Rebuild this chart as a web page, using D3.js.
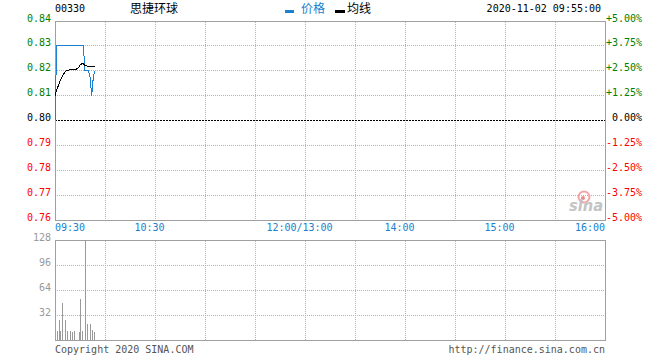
<!DOCTYPE html>
<html>
<head>
<meta charset="utf-8">
<script src="https://cdn.jsdelivr.net/npm/d3@7"></script>
<style>
  html, body { margin: 0; padding: 0; background: #fff; }
  svg { display: block; }
  text { font-family: "DejaVu Sans Mono", "Liberation Mono", monospace; font-size: 10px; }
  .cjk { font-family: "Noto Sans CJK SC", sans-serif; font-size: 12px; }
</style>
</head>
<body>
<svg id="chart" width="660" height="360"></svg>
<script>
// ---------------- data ----------------
const stockCode = "00330";
const stockName = "思捷环球";
const timestamp = "2020-11-02 09:55:00";
const prevClose = 0.80;

const times = ["09:30","09:31","09:32","09:33","09:34","09:35","09:36","09:37","09:38","09:39",
               "09:40","09:41","09:42","09:43","09:44","09:45","09:46","09:47","09:48","09:49",
               "09:50","09:51","09:52","09:53","09:54"];
const prices = [0.800, 0.830, 0.830, 0.830, 0.830, 0.830, 0.830, 0.830, 0.830, 0.830,
                0.830, 0.830, 0.830, 0.830, 0.830, 0.830, 0.830, 0.830, 0.820, 0.820,
                0.820, 0.8175, 0.810, 0.8175, 0.820];
const avgPrices = [0.8100, 0.8125, 0.8140, 0.8160, 0.8172, 0.8185, 0.8195, 0.8200, 0.8200, 0.8205,
                   0.8207, 0.8207, 0.8207, 0.8207, 0.8212, 0.8222, 0.8228, 0.8228, 0.8220, 0.8219,
                   0.8219, 0.8219, 0.8219, 0.8219, 0.8219];
const volumes = [0, 11, 25, 11, 48, 0, 25, 11, 0, 11,
                 10, 11, 0, 0, 10, 52, 11, 0, 140, 20,
                 0, 20, 13, 10, 0];

const priceTicks = [0.84, 0.83, 0.82, 0.81, 0.80, 0.79, 0.78, 0.77, 0.76];
const pctLabels = ["+5.00%", "+3.75%", "+2.50%", "+1.25%", "0.00%", "-1.25%", "-2.50%", "-3.75%", "-5.00%"];
const timeTickLabels = ["09:30", "10:30", "12:00/13:00", "14:00", "15:00", "16:00"];
const timeTickMinutes = [0, 60, 150, 210, 270, 330];
const gridMinutes = [30, 60, 90, 120, 150, 180, 210, 240, 270, 300];
const volumeTicks = [128, 96, 64, 32];
const legendLabels = ["价格", "均线"];

// ---------------- helpers ----------------
function minuteIndex(t) {
  const [h, m] = t.split(":").map(Number);
  let v = h * 60 + m - (9 * 60 + 30);
  if (v > 150) v -= 60; // lunch break
  return v;
}
const blue = "#1a80cf";
const green = "#008000";
const red = "#ff0000";
const gray = "#a0a0a0";
const dotGray = "#b4b4b4";

const svg = d3.select("#chart");
const L = 55, R = 605;
const mainTop = 21, mainBot = 220;
const volTop = 240, volBot = 340;

const x = d3.scaleLinear().domain([0, 330]).range([L, R]);
const y = d3.scaleLinear().domain([0.76, 0.84]).range([mainBot, mainTop]);
const yv = d3.scaleLinear().domain([0, 128]).range([volBot, volTop]).clamp(true);
const crisp = v => Math.floor(v) + 0.5;

// ---------------- grid: main ----------------
const gMain = svg.append("g");
gMain.selectAll("line.hg").data(priceTicks.filter(p => p !== 0.84 && p !== 0.76 && p !== prevClose))
  .join("line")
  .attr("x1", L).attr("x2", R)
  .attr("y1", d => crisp(y(d))).attr("y2", d => crisp(y(d)))
  .attr("stroke", dotGray).attr("stroke-dasharray", "1,1").attr("shape-rendering", "crispEdges");
gMain.selectAll("line.vg").data(gridMinutes).join("line")
  .attr("x1", d => crisp(x(d))).attr("x2", d => crisp(x(d)))
  .attr("y1", crisp(mainTop)).attr("y2", crisp(mainBot))
  .attr("stroke", dotGray).attr("stroke-dasharray", "1,1").attr("shape-rendering", "crispEdges");
// prev close dashed line
gMain.append("line")
  .attr("x1", L).attr("x2", R)
  .attr("y1", crisp(y(prevClose))).attr("y2", crisp(y(prevClose)))
  .attr("stroke", "#000").attr("stroke-dasharray", "2,1").attr("shape-rendering", "crispEdges");
// border
gMain.append("rect")
  .attr("x", crisp(L)).attr("y", crisp(mainTop))
  .attr("width", crisp(R) - crisp(L)).attr("height", crisp(mainBot) - crisp(mainTop))
  .attr("fill", "none").attr("stroke", gray).attr("shape-rendering", "crispEdges");

// ---------------- grid: volume ----------------
const gVol = svg.append("g");
gVol.selectAll("line.hg").data(volumeTicks.filter(v => v !== 128)).join("line")
  .attr("x1", L).attr("x2", R)
  .attr("y1", d => crisp(yv(d))).attr("y2", d => crisp(yv(d)))
  .attr("stroke", dotGray).attr("stroke-dasharray", "1,1").attr("shape-rendering", "crispEdges");
gVol.selectAll("line.vg").data(gridMinutes).join("line")
  .attr("x1", d => crisp(x(d))).attr("x2", d => crisp(x(d)))
  .attr("y1", crisp(volTop)).attr("y2", crisp(volBot))
  .attr("stroke", dotGray).attr("stroke-dasharray", "1,1").attr("shape-rendering", "crispEdges");
gVol.append("rect")
  .attr("x", crisp(L)).attr("y", crisp(volTop))
  .attr("width", crisp(R) - crisp(L)).attr("height", crisp(volBot) - crisp(volTop))
  .attr("fill", "none").attr("stroke", gray).attr("shape-rendering", "crispEdges");

// ---------------- watermark ----------------
const wm = svg.append("g");
wm.append("circle").attr("cx", 584).attr("cy", 197).attr("r", 5.5)
  .attr("fill", "none").attr("stroke", "#f3a3a3").attr("stroke-width", 2);
wm.append("circle").attr("cx", 583).attr("cy", 198).attr("r", 2).attr("fill", "#e88");
wm.append("text").attr("x", 569).attr("y", 211)
  .attr("font-size", 16).attr("font-weight", "bold").attr("font-style", "italic")
  .attr("textLength", 34).attr("lengthAdjust", "spacingAndGlyphs")
  .style("font-family", "'DejaVu Sans', sans-serif").style("font-size", "16px")
  .attr("fill", "#c4c4c4").text("sina");

// ---------------- lines ----------------
const pts = times.map((t, i) => ({ m: minuteIndex(t), p: prices[i], a: avgPrices[i], v: volumes[i] }));
svg.append("path").datum(pts)
  .attr("d", d3.line().x(d => x(d.m)).y(d => y(d.p)))
  .attr("fill", "none").attr("stroke", blue).attr("stroke-width", 1)
  .attr("shape-rendering", "crispEdges");
svg.append("path").datum(pts)
  .attr("d", d3.line().x(d => x(d.m)).y(d => y(d.a)))
  .attr("fill", "none").attr("stroke", "#000").attr("stroke-width", 1)
  .attr("shape-rendering", "crispEdges");

// ---------------- volume bars ----------------
svg.append("g").selectAll("line").data(pts.filter(d => d.v > 0)).join("line")
  .attr("x1", d => Math.floor(x(d.m) + 0.67) + 0.5)
  .attr("x2", d => Math.floor(x(d.m) + 0.67) + 0.5)
  .attr("y1", yv(0)).attr("y2", d => yv(d.v))
  .attr("stroke", "#9a9a9a").attr("shape-rendering", "crispEdges");

// ---------------- axis labels ----------------
svg.append("g").selectAll("text").data(priceTicks).join("text")
  .attr("x", 51).attr("y", d => Math.floor(y(d)) + 0.5)
  .attr("text-anchor", "end")
  .attr("fill", d => d > prevClose + 1e-9 ? green : (d < prevClose - 1e-9 ? red : "#000"))
  .text(d => d.toFixed(2));
svg.append("g").selectAll("text").data(priceTicks).join("text")
  .attr("x", 642).attr("y", d => Math.floor(y(d)) + 0.5)
  .attr("text-anchor", "end")
  .attr("fill", d => d > prevClose + 1e-9 ? green : (d < prevClose - 1e-9 ? red : "#000"))
  .text((d, i) => pctLabels[i]);
svg.append("g").selectAll("text").data(timeTickMinutes).join("text")
  .attr("x", (d, i) => i === 0 ? x(d) : (i === timeTickMinutes.length - 1 ? x(d) : x(d) - 5.5))
  .attr("y", 231)
  .attr("text-anchor", (d, i) => i === 0 ? "start" : (i === timeTickMinutes.length - 1 ? "end" : "middle"))
  .attr("fill", blue)
  .text((d, i) => timeTickLabels[i]);
svg.append("g").selectAll("text").data(volumeTicks).join("text")
  .attr("x", 51).attr("y", d => Math.floor(yv(d)) + 1)
  .attr("text-anchor", "end").attr("fill", "#999")
  .text(d => d);

// ---------------- header ----------------
svg.append("text").attr("x", 55).attr("y", 12).attr("fill", "#000").text(stockCode);
svg.append("text").attr("class", "cjk").attr("x", 130).attr("y", 13).attr("fill", "#000").text(stockName);
svg.append("rect").attr("x", 285).attr("y", 10).attr("width", 9).attr("height", 3).attr("fill", blue);
svg.append("text").attr("class", "cjk").attr("x", 301).attr("y", 13).attr("fill", blue).text(legendLabels[0]);
svg.append("rect").attr("x", 335).attr("y", 10).attr("width", 10).attr("height", 3).attr("fill", "#000");
svg.append("text").attr("class", "cjk").attr("x", 347).attr("y", 13).attr("fill", "#000").text(legendLabels[1]);
svg.append("text").attr("x", 601).attr("y", 12).attr("text-anchor", "end").attr("fill", "#000").text(timestamp);

// ---------------- footer ----------------
svg.append("text").attr("x", 55).attr("y", 353).attr("fill", "#555").text("Copyright 2020 SINA.COM");
svg.append("text").attr("x", 605).attr("y", 353).attr("text-anchor", "end").attr("fill", "#555").text("http://finance.sina.com.cn");
</script>
</body>
</html>
